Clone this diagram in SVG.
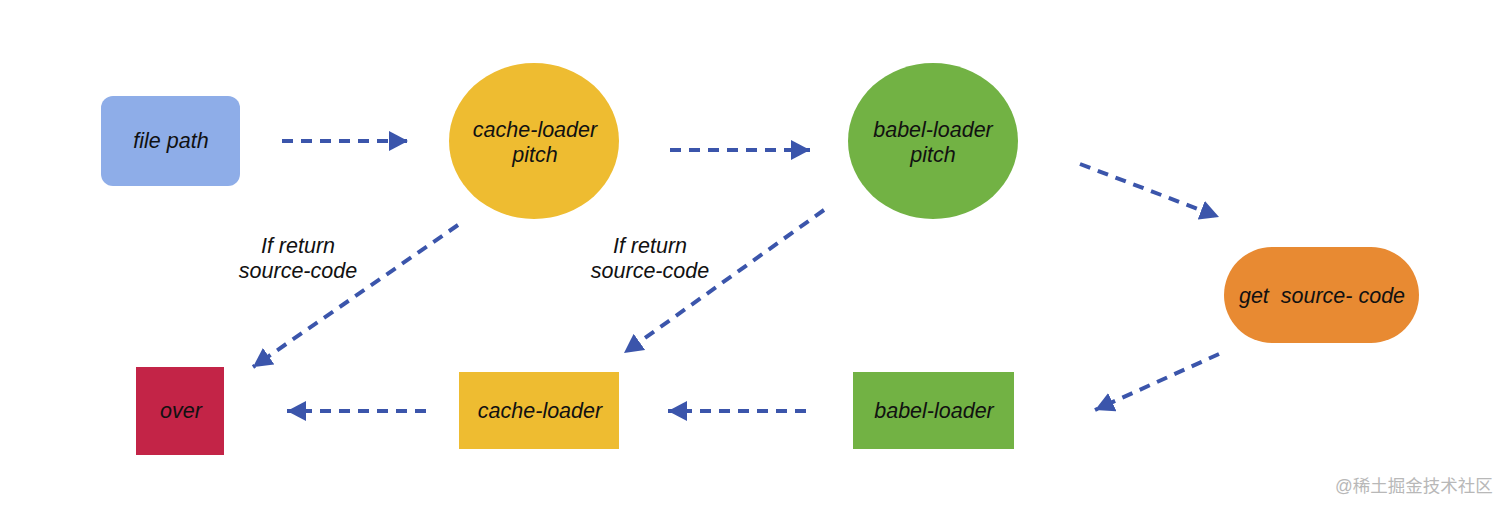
<svg xmlns="http://www.w3.org/2000/svg" width="1512" height="512" viewBox="0 0 1512 512">
<style>
.t{font-family:"Liberation Sans",Arial,sans-serif;font-style:italic;font-size:21.5px;fill:#111;text-anchor:middle;white-space:pre}
.c{stroke:#3b55ab;stroke-width:4;stroke-dasharray:11 8;fill:none}
.w{font-family:"Liberation Sans","Noto Sans CJK SC",sans-serif;font-size:17.5px;fill:#b8b8b8}
</style>
<defs>
<marker id="ah" markerUnits="userSpaceOnUse" markerWidth="20" markerHeight="20" refX="19" refY="10" orient="auto">
<path d="M0,0 L19,10 L0,20 Z" fill="#3b55ab"/>
</marker>
</defs>
<rect width="1512" height="512" fill="#fff"/>
<g id="file-path"><rect x="101" y="96" width="139" height="90" rx="12" fill="#8eade8"/><text class="t" x="171" y="148">file path</text></g>
<g id="cache-loader-pitch"><ellipse cx="534" cy="141" rx="85" ry="78" fill="#eebc31"/><text class="t" x="535" y="137">cache-loader</text><text class="t" x="535" y="162">pitch</text></g>
<g id="babel-loader-pitch"><ellipse cx="933" cy="141" rx="85" ry="78" fill="#72b244"/><text class="t" x="933" y="137">babel-loader</text><text class="t" x="933" y="162">pitch</text></g>
<g id="get-source-code"><rect x="1224" y="247" width="195" height="96" rx="48" fill="#e88a32"/><text class="t" x="1322" y="303" xml:space="preserve">get  source- code</text></g>
<g id="babel-loader"><rect x="853" y="372" width="161" height="77" fill="#72b244"/><text class="t" x="934" y="418">babel-loader</text></g>
<g id="cache-loader"><rect x="459" y="372" width="160" height="77" fill="#eebc31"/><text class="t" x="540" y="418">cache-loader</text></g>
<g id="over"><rect x="136" y="367" width="88" height="88" fill="#c32447"/><text class="t" x="181" y="418">over</text></g>
<g id="connectors">
<line class="c" x1="282" y1="141" x2="408" y2="141" marker-end="url(#ah)"/>
<line class="c" x1="670" y1="150" x2="810" y2="150" marker-end="url(#ah)"/>
<line class="c" x1="1080" y1="164" x2="1219" y2="217" marker-end="url(#ah)"/>
<line class="c" x1="1219" y1="354" x2="1095" y2="410" marker-end="url(#ah)"/>
<line class="c" x1="806" y1="411" x2="668" y2="411" marker-end="url(#ah)"/>
<line class="c" x1="426" y1="411" x2="287" y2="411" marker-end="url(#ah)"/>
<line class="c" x1="458" y1="225" x2="253" y2="367" marker-end="url(#ah)"/>
<line class="c" x1="824" y1="210" x2="624" y2="353" marker-end="url(#ah)"/>
<text class="t" x="298" y="253">If return</text><text class="t" x="298" y="278">source-code</text>
<text class="t" x="650" y="253">If return</text><text class="t" x="650" y="278">source-code</text>
</g>
<text class="w" x="1335" y="492">@稀土掘金技术社区</text>
</svg>
